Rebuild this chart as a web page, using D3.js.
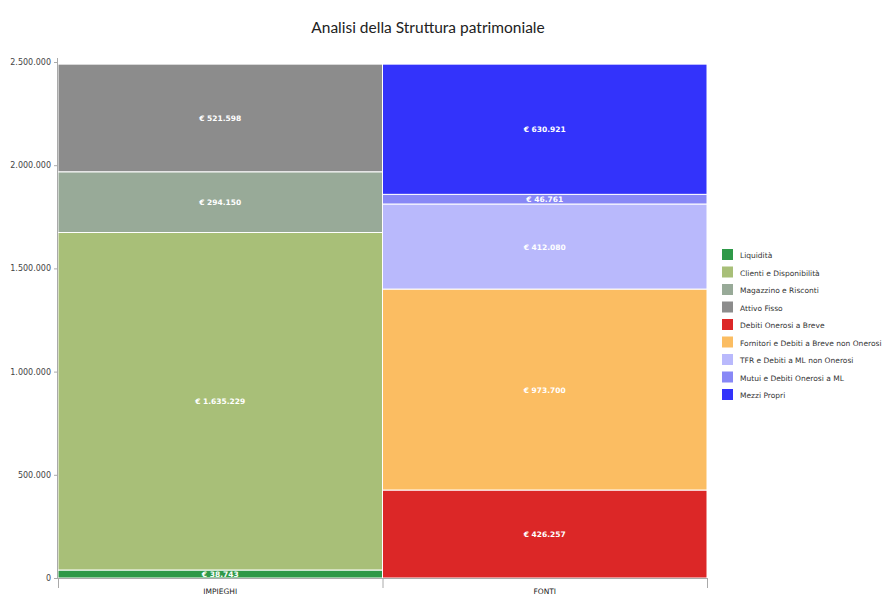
<!DOCTYPE html>
<html><head><meta charset="utf-8">
<script src="https://cdnjs.cloudflare.com/ajax/libs/d3/7.8.5/d3.min.js"></script>
<style>body{margin:0;background:#fff;} svg{display:block;}</style>
</head><body>
<svg id="c" width="896" height="608"></svg>
<script>
const categories = ["IMPIEGHI", "FONTI"];
const seriesNames = ["Liquidità","Clienti e Disponibilità","Magazzino e Risconti","Attivo Fisso",
  "Debiti Onerosi a Breve","Fornitori e Debiti a Breve non Onerosi","TFR  e Debiti a ML non Onerosi",
  "Mutui e Debiti Onerosi a ML","Mezzi Propri"];
const seriesCategory = ["IMPIEGHI","IMPIEGHI","IMPIEGHI","IMPIEGHI","FONTI","FONTI","FONTI","FONTI","FONTI"];
const seriesValues = [38743, 1635229, 294150, 521598, 426257, 973700, 412080, 46761, 630921];
const seriesColors = ["#2e9948","#a8bf78","#98aa98","#8c8c8c","#dc2727","#fbbd62","#b9b9fc","#8888f6","#3333fb"];
const yTicks = [0, 500000, 1000000, 1500000, 2000000, 2500000];

const fmt = d3.formatLocale({decimal:",", thousands:".", grouping:[3], currency:["€",""]}).format(",.0f");

const svg = d3.select("#c");
const m = {l:58, r:707, t:62, b:578};
const x = d3.scaleBand().domain(categories).range([m.l, m.r]).padding(0);
const y = d3.scaleLinear().domain([0, 2500000]).range([m.b, m.t]);

svg.append("text").attr("x", 428).attr("y", 33).attr("text-anchor","middle")
  .attr("font-family","Lato, 'Open Sans', sans-serif").attr("font-size", 15.5).attr("fill","#222")
  .text("Analisi della Struttura patrimoniale");

// stack
const segs = [];
const cum = {};
seriesNames.forEach((n,i)=>{
  const c = seriesCategory[i];
  const y0 = cum[c] || 0;
  const y1 = y0 + seriesValues[i];
  cum[c] = y1;
  segs.push({name:n, cat:c, y0, y1, v:seriesValues[i], color:seriesColors[i]});
});

svg.append("g").selectAll("rect").data(segs).join("rect")
  .attr("x", d=>x(d.cat)).attr("width", x.bandwidth())
  .attr("y", d=>y(d.y1)).attr("height", d=>y(d.y0)-y(d.y1))
  .attr("fill", d=>d.color).attr("stroke","#fff").attr("stroke-width",1);

svg.append("g").selectAll("text").data(segs).join("text")
  .attr("x", d=>x(d.cat)+x.bandwidth()/2)
  .attr("y", d=>(y(d.y0)+y(d.y1))/2 + 3)
  .attr("text-anchor","middle").attr("fill","#fff")
  .attr("font-family","'DejaVu Sans', sans-serif").attr("font-size", 7.5).attr("font-weight","bold")
  .text(d=>"€ " + fmt(d.v));

// y axis
const ya = svg.append("g").attr("transform",`translate(${m.l},0)`)
  .call(d3.axisLeft(y).tickValues(yTicks).tickSize(4).tickPadding(3).tickFormat(d=>fmt(d)));
ya.select(".domain").attr("stroke","#aaa").attr("d",`M-0.5,${m.t-4}V${m.b}`);
ya.selectAll(".tick line").attr("stroke","#aaa");
ya.selectAll("text").attr("font-family","'DejaVu Sans', sans-serif").attr("font-size",8).attr("fill","#444");

// x axis
const xa = svg.append("g").attr("transform",`translate(0,${m.b})`)
  .call(d3.axisBottom(x).tickSize(0).tickPadding(11));
xa.select(".domain").attr("stroke","#aaa").attr("d",`M${m.l},0.5H${m.r}`);
xa.selectAll("text").attr("font-family","'DejaVu Sans', sans-serif").attr("font-size",7.5).attr("fill","#222");
const xt = [m.l, m.l + x.bandwidth(), m.r];
svg.append("g").selectAll("line").data(xt).join("line")
  .attr("x1",d=>d+0.5).attr("x2",d=>d+0.5).attr("y1",m.b).attr("y2",m.b+10).attr("stroke","#aaa");

// legend
const lg = svg.append("g").attr("transform","translate(722,249)");
const row = lg.selectAll("g").data(segs).join("g").attr("transform",(d,i)=>`translate(0,${i*17.5})`);
row.append("rect").attr("width",11).attr("height",11).attr("fill",d=>d.color);
row.append("text").attr("x",18).attr("y",9).attr("font-family","'DejaVu Sans', sans-serif")
  .attr("font-size",7.5).attr("fill","#333").text(d=>d.name);
</script>
</body></html>
